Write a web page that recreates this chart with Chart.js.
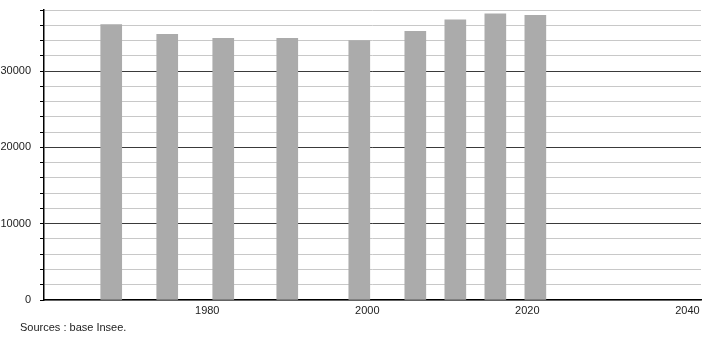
<!DOCTYPE html>
<html>
<head>
<meta charset="utf-8">
<script src="https://cdn.jsdelivr.net/npm/chart.js@4"></script>
<style>
  html, body { margin: 0; padding: 0; background: #fff; }
  #wrap { position: relative; width: 710px; height: 340px; }
  #source { position: absolute; left: 20px; top: 321px; font: 11px "Liberation Sans", Arial, sans-serif; color: #222; }
</style>
</head>
<body>
<div id="wrap">
  <canvas id="popChart" width="710" height="340"></canvas>
  <div id="source">Sources : base Insee.</div>
</div>
<script>
// census years and population
const years = [1968, 1975, 1982, 1990, 1999, 2006, 2011, 2016, 2021];
const population = [36100, 34800, 34300, 34300, 34000, 35200, 36700, 37500, 37300];
const xTickYears = [1980, 2000, 2020, 2040];

Chart.defaults.font.family = "'Liberation Sans', Arial, sans-serif";
Chart.defaults.font.size = 11;
Chart.defaults.color = '#222';

const ctx = document.getElementById('popChart').getContext('2d');
new Chart(ctx, {
  type: 'bar',
  data: {
    datasets: [{
      label: 'Population',
      data: years.map((y, i) => ({ x: y, y: population[i] })),
      backgroundColor: '#ababab',
      borderWidth: 0,
      barThickness: 21,
    }]
  },
  options: {
    responsive: false,
    animation: false,
    layout: { padding: { top: 10, right: 9, left: 0, bottom: 0 } },
    plugins: { legend: { display: false }, tooltip: { enabled: false } },
    scales: {
      x: {
        type: 'linear',
        offset: false,
        min: 1959.6,
        max: 2041.7,
        afterBuildTicks: s => { s.ticks = xTickYears.map(v => ({ value: v })); },
        afterFit: s => { s.height = 40; s.paddingLeft = 0; s.paddingRight = 0; },
        grid: { display: false, drawTicks: false, offset: false },
        border: { display: true, color: '#000', width: 1.5 },
        ticks: { padding: 4, maxRotation: 0, autoSkip: false, color: '#222', callback: v => String(v) }
      },
      y: {
        min: 0,
        max: 38000,
        afterFit: s => { s.width = 44; s.paddingTop = 0; s.paddingBottom = 0; },
        grid: {
          color: c => (c.tick && c.tick.value % 10000 === 0 && c.tick.value !== 0) ? '#3a3a3a' : '#c8c8c8',
          tickColor: '#000',
          tickLength: 4,
          lineWidth: 1,
        },
        border: { display: true, color: '#000', width: 1.5 },
        ticks: {
          stepSize: 2000,
          padding: 9,
          autoSkip: false,
          color: '#222',
          callback: v => (v % 10000 === 0 ? String(v) : '')
        }
      }
    }
  }
});
</script>
</body>
</html>
